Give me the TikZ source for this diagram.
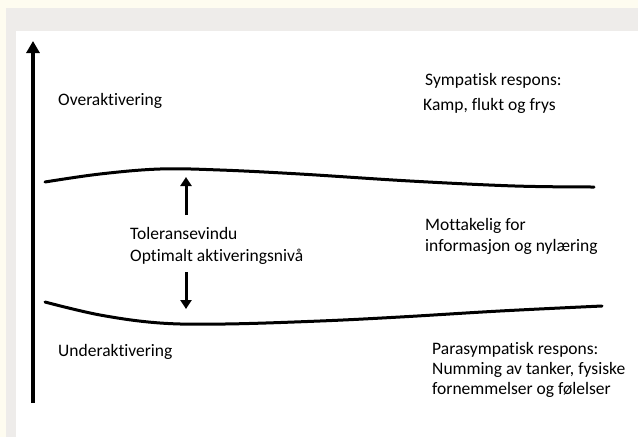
\documentclass[tikz,border=0pt]{standalone}
\usepackage{fontspec}
\setmainfont{Carlito}[Ligatures=NoCommon]
\usetikzlibrary{arrows.meta}
\definecolor{creambg}{RGB}{254,252,240}
\definecolor{greyband}{RGB}{238,236,234}
\begin{document}
\begin{tikzpicture}[x=1pt,y=-1pt,
  lbl/.style={anchor=base west,inner sep=0pt,font=\fontsize{17.5}{20}\selectfont},
  curve/.style={line width=3pt,line cap=round},
  axisarrow/.style={line width=3.2pt,-{Triangle[width=13pt,length=12pt]}},
  smallarrow/.style={line width=3pt,-{Triangle[width=11pt,length=9pt]}}]
\useasboundingbox (0,0) rectangle (638,437);
\fill[creambg] (0,0) rectangle (638,437);
\fill[greyband] (6,8) rectangle (638,437);
\fill[white] (16,31) rectangle (638,437);
% axis
\coordinate (axisbot) at (33,403);
\coordinate (axistop) at (33,41);
\draw[axisarrow] (axisbot) -- (axistop);
% curves
\draw[curve] plot[smooth,tension=0.6] coordinates {(45,182) (100,174) (160,169) (220,170) (300,174) (410,181) (515,186) (594,187)};
\draw[curve] plot[smooth,tension=0.6] coordinates {(45,302) (100,315) (160,323) (225,324) (320,321) (400,317) (500,311) (602,306)};
% small arrows
\coordinate (upfrom) at (186,215);
\coordinate (upto) at (186,177);
\coordinate (downfrom) at (186,272);
\coordinate (downto) at (186,309);
\draw[smallarrow] (upfrom) -- (upto);
\draw[smallarrow] (downfrom) -- (downto);
% labels
\node[lbl] (over) at (58,105) {Overaktivering};
\node[lbl] (under) at (58,356) {Underaktivering};
\node[lbl] (symp) at (425,85) {Sympatisk respons:};
\node[lbl] (kamp) at (423,110) {Kamp, flukt og frys};
\node[lbl] (tol1) at (130,239) {Toleransevindu};
\node[lbl] (tol2) at (130,261) {Optimalt aktiveringsnivå};
\node[lbl] (mott1) at (425,230) {Mottakelig for};
\node[lbl] (mott2) at (425,251) {informasjon og nylæring};
\node[lbl] (para1) at (432,354) {Parasympatisk respons:};
\node[lbl] (para2) at (432,374) {Numming av tanker, fysiske};
\node[lbl] (para3) at (432,394) {fornemmelser og følelser};
\end{tikzpicture}
\end{document}
